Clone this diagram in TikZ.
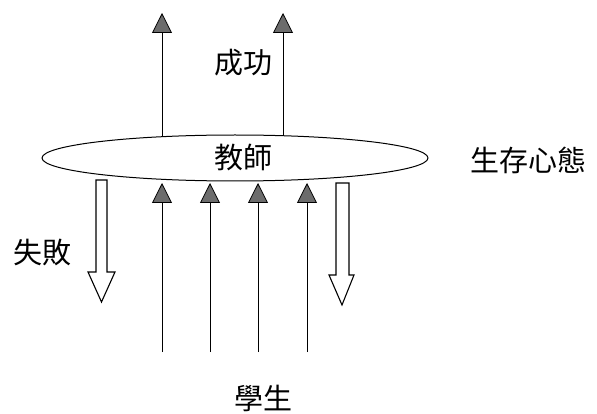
\documentclass[tikz,border=0pt]{standalone}
\usepackage{fontspec}
\newfontfamily\cjk{Noto Sans CJK TC}
\usetikzlibrary{arrows.meta,shapes.geometric}
\tikzset{
  lbl/.style={font=\cjk\fontsize{29}{31}\selectfont, inner sep=0pt},
  solidarr/.style={line width=1pt, -{Triangle[length=20pt,width=20pt,fill=gray!85!black,line width=0.8pt]}},
  hollow/.style={draw, line width=1.1pt, line join=miter, fill=white}
}
\begin{document}
\begin{tikzpicture}[x=1pt,y=-1pt]
\useasboundingbox (0,0) rectangle (597,414);
\node[ellipse, draw, line width=1pt, minimum width=386pt, minimum height=46pt, inner sep=0pt] (t) at (235,158) {};
\node[lbl] (tl) at (243,158) {教師};
\node[lbl] (succ) at (243,63) {成功};
\node[lbl] (fail) at (42,252) {失敗};
\node[lbl] (mind) at (528,160) {生存心態};
\node[lbl] (stu) at (263,398) {學生};
% top arrows
\coordinate (a1) at (162,137);
\coordinate (b1) at (162,13);
\coordinate (a2) at (283,136);
\coordinate (b2) at (283,13);
\draw[solidarr] (a1) -- (b1);
\draw[solidarr] (a2) -- (b2);
% bottom arrows
\foreach \i/\x in {1/162,2/210,3/258,4/307}{
  \coordinate (s\i) at (\x,352);
  \coordinate (e\i) at (\x,183);
  \draw[solidarr] (s\i) -- (e\i);
}
% hollow arrows
\draw[hollow] (96,180) -- (107,180) -- (107,272) -- (115,272) -- (101.5,302) -- (88,272) -- (96,272) -- cycle;
\draw[hollow] (336,183) -- (349,183) -- (349,275) -- (354,275) -- (342,305) -- (329,275) -- (336,275) -- cycle;
\end{tikzpicture}
\end{document}
